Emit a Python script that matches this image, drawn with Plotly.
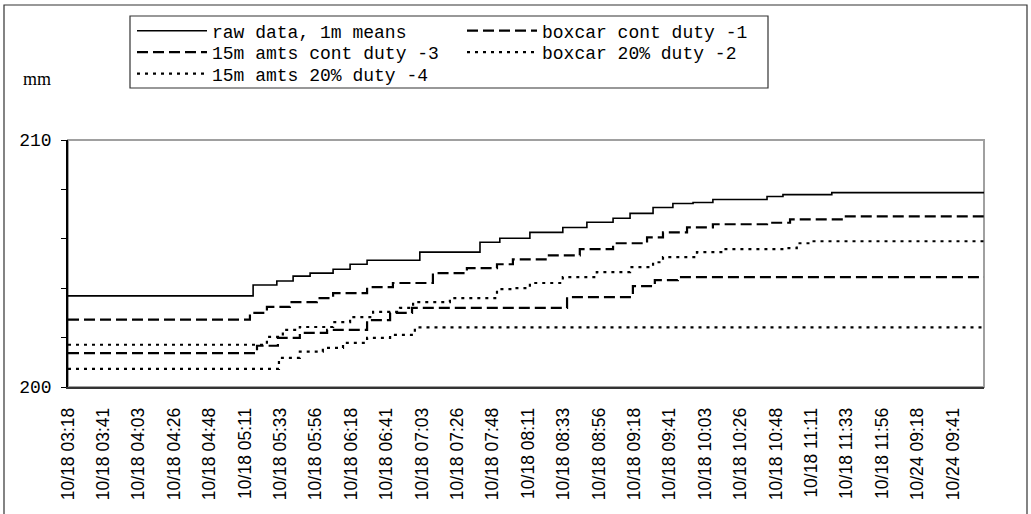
import plotly.graph_objects as go

# ---- category labels (x axis) ----
tick_labels = [
    "10/18 03:18", "10/18 03:41", "10/18 04:03", "10/18 04:26", "10/18 04:48",
    "10/18 05:11", "10/18 05:33", "10/18 05:56", "10/18 06:18", "10/18 06:41",
    "10/18 07:03", "10/18 07:26", "10/18 07:48", "10/18 08:11", "10/18 08:33",
    "10/18 08:56", "10/18 09:18", "10/18 09:41", "10/18 10:03", "10/18 10:26",
    "10/18 10:48", "10/18 11:11", "10/18 11:33", "10/18 11:56", "10/24 09:18",
    "10/24 09:41",
]
tick_pos = list(range(len(tick_labels)))

# ---- series (x in label-interval units, y in mm) ----
raw_x = [0, 4.77, 5.23, 5.90, 6.36, 6.84, 7.49, 7.97, 8.45, 9.94, 11.64, 12.20,
         13.05, 13.98, 14.66, 15.40, 15.88, 16.53, 17.09, 17.66, 18.22, 19.75,
         20.20, 21.58, 25.88]
raw_y = [203.69, 203.69, 204.13, 204.29, 204.49, 204.61, 204.77, 204.97, 205.13,
         205.46, 205.86, 206.02, 206.26, 206.46, 206.67, 206.83, 207.03, 207.27,
         207.43, 207.47, 207.59, 207.71, 207.79, 207.87, 207.87]

box1_x = [0, 4.92, 5.14, 5.62, 6.27, 7.03, 7.49, 8.45, 9.18, 10.31, 11.27, 12.12,
          12.57, 13.53, 14.46, 15.40, 16.36, 16.81, 17.49, 18.22, 19.75, 20.40,
          21.86, 25.88]
box1_y = [202.73, 202.73, 203.00, 203.24, 203.44, 203.60, 203.80, 204.04, 204.21,
          204.61, 204.81, 204.97, 205.17, 205.33, 205.58, 205.82, 206.06, 206.26,
          206.46, 206.59, 206.65, 206.79, 206.91, 206.91]

amt3_x = [0, 5.34, 5.93, 6.55, 7.32, 8.45, 9.10, 9.72, 14.10, 15.96, 16.58, 17.23,
          25.88]
amt3_y = [201.37, 201.67, 201.99, 202.19, 202.31, 202.71, 203.00, 203.20, 203.64,
          204.08, 204.33, 204.45, 204.45]

box2_x = [0, 5.34, 5.62, 6.07, 6.55, 7.49, 7.97, 8.62, 9.38, 9.75, 10.79, 12.12,
          12.57, 13.05, 13.98, 14.94, 15.88, 16.53, 16.81, 17.77, 18.50, 20.31,
          20.59, 20.96, 25.88]
box2_y = [201.71, 201.71, 202.03, 202.31, 202.43, 202.63, 202.83, 203.04, 203.20,
          203.44, 203.60, 203.96, 204.00, 204.21, 204.45, 204.65, 204.85, 205.05,
          205.26, 205.46, 205.58, 205.62, 205.82, 205.90, 205.90]

amt4_x = [0, 5.96, 6.55, 7.20, 7.77, 8.45, 9.10, 9.80, 25.88]
amt4_y = [200.73, 201.18, 201.43, 201.58, 201.79, 201.99, 202.11, 202.41, 202.41]

y_ticks = [200, 202, 204, 206, 208, 210]
y_tick_text = ["200", "", "", "", "", "210"]

# name, x, y, dash, width, legend row
series = [
    ("raw data, 1m means", raw_x, raw_y, "solid", 1.6, "legend"),
    ("boxcar cont duty -1", box1_x, box1_y, "11px,5px", 2.2, "legend"),
    ("15m amts cont duty -3", amt3_x, amt3_y, "11px,5px", 2.2, "legend2"),
    ("boxcar 20% duty -2", box2_x, box2_y, "3px,5px", 2.2, "legend2"),
    ("15m amts 20% duty -4", amt4_x, amt4_y, "3px,5px", 2.2, "legend3"),
]

fig = go.Figure()
for name, xs, ys, dash, w, lg in series:
    fig.add_trace(go.Scatter(
        x=xs, y=ys, name=name, mode="lines", legend=lg,
        line=dict(color="black", width=w, dash=dash, shape="hv"),
    ))

W, H = 1031, 514
ml, mr, mt, mb = 68, 47, 140, 127
pw, ph = W - ml - mr, H - mt - mb


def px2paper_x(px):
    return (px - ml) / pw


def px2paper_y(py):
    return (H - mb - py) / ph


mono = "Liberation Mono, Courier New, monospace"
leg_font = dict(family=mono, size=18, color="black")


def legend_row(py):
    return dict(
        orientation="h",
        x=px2paper_x(132), y=px2paper_y(py),
        xanchor="left", yanchor="middle",
        bgcolor="rgba(0,0,0,0)", borderwidth=0,
        font=leg_font, itemwidth=70, entrywidth=245,
        traceorder="normal",
    )


fig.update_layout(
    width=W, height=H,
    margin=dict(l=ml, r=mr, t=mt, b=mb, pad=0),
    paper_bgcolor="white", plot_bgcolor="white",
    showlegend=True,
    legend=legend_row(31),
    legend2=legend_row(52.5),
    legend3=legend_row(74),
    xaxis=dict(
        range=[0, 25.88],
        tickmode="array", tickvals=tick_pos, ticktext=tick_labels,
        tickangle=-90,
        tickfont=dict(family="Liberation Sans, Arial, sans-serif", size=17.5, color="black"),
        showgrid=False, zeroline=False,
        showline=True, linecolor="#333333", linewidth=1.5,
        ticks="",
        ticklabelstandoff=12,
    ),
    yaxis=dict(
        range=[200, 210],
        tickmode="array", tickvals=y_ticks, ticktext=y_tick_text,
        tickfont=dict(family=mono, size=18, color="black"),
        showgrid=False, zeroline=False,
        showline=True, linecolor="black", linewidth=1.5,
        ticks="outside", ticklen=5, tickcolor="black", tickwidth=1.2,
        ticklabelstandoff=6,
    ),
    yaxis2=dict(
        overlaying="y", side="left", anchor="x",
        range=[200, 210],
        tickmode="array", tickvals=y_ticks,
        showticklabels=False, showgrid=False, zeroline=False, showline=False,
        ticks="inside", ticklen=5, tickcolor="black", tickwidth=1.2,
    ),
    shapes=[
        # plot frame (gray top and right)
        dict(type="rect", xref="paper", yref="paper", x0=0, y0=0, x1=1, y1=1,
             line=dict(color="#a0a0a0", width=2), layer="below"),
        # outer chart border
        dict(type="rect", xref="paper", yref="paper",
             x0=px2paper_x(4), x1=px2paper_x(1027),
             y0=px2paper_y(530), y1=px2paper_y(5),
             line=dict(color="#333333", width=1.2), layer="below"),
        # legend box
        dict(type="rect", xref="paper", yref="paper",
             x0=px2paper_x(130), x1=px2paper_x(768),
             y0=px2paper_y(88), y1=px2paper_y(16),
             line=dict(color="#333333", width=1.2), fillcolor="white", layer="below"),
    ],
    annotations=[
        dict(text="mm", xref="paper", yref="paper",
             x=px2paper_x(37), y=px2paper_y(79),
             xanchor="center", yanchor="middle", showarrow=False,
             font=dict(family="Liberation Serif, Times New Roman, serif", size=18, color="black")),
    ],
)

fig.write_html("out.html", config={"displayModeBar": False},
               post_script="document.body.style.margin='0px';")
